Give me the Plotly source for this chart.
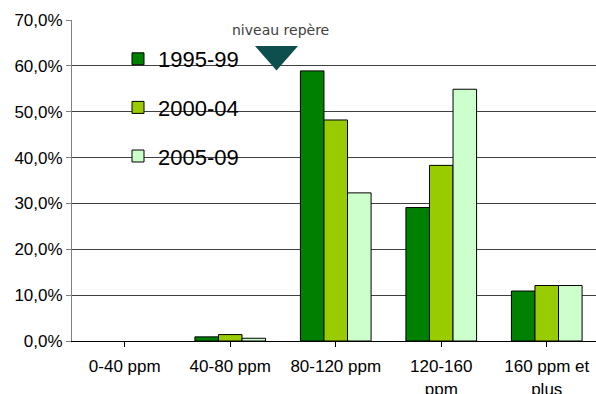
import plotly.graph_objects as go

categories = ["0-40 ppm", "40-80 ppm", "80-120 ppm", "120-160<br>ppm", "160 ppm et<br>plus"]
series_names = ["1995-99", "2000-04", "2005-09"]
v_1995_99 = [None, 0.009, 0.589, 0.291, 0.109]
v_2000_04 = [None, 0.014, 0.482, 0.383, 0.121]
v_2005_09 = [None, 0.006, 0.323, 0.549, 0.121]
colors = ["#008000", "#99CC00", "#CCFFCC"]
y_ticks = [0, 0.1, 0.2, 0.3, 0.4, 0.5, 0.6, 0.7]

W, H = 596, 394
L, T, B, R = 72, 20, 53, 0

fig = go.Figure()
for name, vals, col in zip(series_names, [v_1995_99, v_2000_04, v_2005_09], colors):
    fig.add_trace(go.Bar(
        x=list(range(len(categories))), y=vals, name=name,
        marker=dict(color=col, line=dict(color="#000000", width=1)),
        legendgroup=name,
    ))

plot_w = W - L - R
cat_px = 105.5
x_max = -0.5 + plot_w / cat_px

fig.update_layout(
    width=W, height=H,
    margin=dict(l=L, r=R, t=T, b=B, autoexpand=False),
    paper_bgcolor="white", plot_bgcolor="white",
    separators=", ",
    barmode="group", bargap=0.33, bargroupgap=0,
    font=dict(family="Liberation Sans, Arial, sans-serif", color="#000000"),
    showlegend=True,
    legend=dict(
        x=(118 - L) / plot_w, xanchor="left",
        y=(341 - 38) / (H - T - B), yanchor="top",
        font=dict(size=22, color="#000000"),
        bgcolor="rgba(0,0,0,0)",
        tracegroupgap=17,
        traceorder="grouped",
    ),
    xaxis=dict(
        tickmode="array", tickvals=list(range(len(categories))), ticktext=categories,
        range=[-0.5, x_max], automargin=False,
        showline=True, linecolor="#000000", linewidth=1,
        ticks="outside", tickson="boundaries", ticklen=5, tickcolor="#000000",
        tickfont=dict(size=17), ticklabelstandoff=5,
        showgrid=False, zeroline=False,
    ),
    yaxis=dict(
        range=[0, 0.7], tickvals=y_ticks, tickformat=".1%", automargin=False,
        showline=True, linecolor="#808080", linewidth=1,
        ticks="outside", ticklen=5, tickcolor="#808080",
        tickfont=dict(size=17),
        showgrid=True, gridcolor="#404040", gridwidth=1,
        zeroline=False,
    ),
    annotations=[dict(
        text="niveau repère", xref="paper", yref="paper",
        x=(280 - L) / plot_w, y=(341 - 30.5) / (H - T - B),
        xanchor="center", yanchor="middle", showarrow=False,
        font=dict(family="DejaVu Sans, Verdana, sans-serif", size=14, color="#404040"),
    )],
)

# "niveau repère" triangle marker (decoration, in paper coordinates)
ph = H - T - B
def px(xp):
    return (xp - L) / plot_w
def py(yp):
    return (341 - yp) / ph
fig.add_shape(
    type="path", xref="paper", yref="paper",
    path=f"M {px(255)} {py(46)} L {px(298)} {py(46)} L {px(276.5)} {py(70.5)} Z",
    fillcolor="#0D4F4F", line=dict(width=0),
)

fig.write_html("out.html")
